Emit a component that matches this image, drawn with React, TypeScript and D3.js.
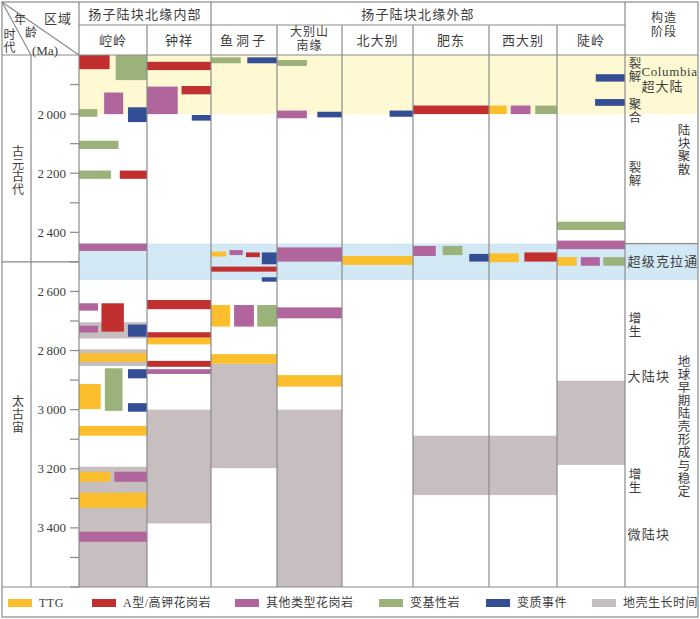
import React from "react";
import * as d3 from "d3";

// ---------- DATA ----------
const groups = ["扬子陆块北缘内部", "扬子陆块北缘外部"];
const columns = ["崆岭", "钟祥", "鱼洞子", "大别山南缘", "北大别", "肥东", "西大别", "陡岭"];
const columnGroup = [0, 0, 1, 1, 1, 1, 1, 1];
const majorTicks = [2000, 2200, 2400, 2600, 2800, 3000, 3200, 3400];
const minorTicks = [1900, 2100, 2300, 2500, 2700, 2900, 3100, 3300, 3500, 3600];
// era name, age span, age at which its label is centred
const eras = [
  { name: "古元古代", from: 1800, to: 2500, labelAt: 2192 },
  { name: "太古宙", from: 2500, to: 3600, labelAt: 3018 },
];
const bands = [
  { from: 1800, to: 2000, kind: "columbia" },
  { from: 2438, to: 2561, kind: "craton" },
];

// [column index, age from (Ma), age to (Ma), share of column from, share to]
const ttg = [
  [0, 2809, 2838, 0, 1], [0, 2913, 2998, 0, 0.32], [0, 3055, 3088, 0, 1], [0, 3210, 3244, 0, 0.46], [0, 3281, 3332, 0, 1],
  [1, 2756, 2779, 0, 1],
  [2, 2465, 2482, 0, 0.23], [2, 2646, 2719, 0, 0.29], [2, 2812, 2845, 0, 1],
  [3, 2883, 2922, 0, 1],
  [4, 2480, 2510, 0, 1],
  [6, 1971, 2000, 0, 0.26], [6, 2471, 2501, 0, 0.44],
  [7, 2484, 2513, 0, 0.29],
];
const aTypeGranite = [
  [0, 1800, 1848, 0, 0.45], [0, 2191, 2219, 0.6, 1], [0, 2640, 2736, 0.33, 0.66],
  [1, 1823, 1851, 0, 1], [1, 1905, 1933, 0.54, 1], [1, 2629, 2660, 0, 1], [1, 2738, 2756, 0, 1], [1, 2835, 2855, 0, 1],
  [2, 2468, 2484, 0.53, 0.74], [2, 2516, 2533, 0, 1],
  [5, 1971, 2000, 0, 1],
  [6, 2468, 2499, 0.52, 1],
];
const otherGranite = [
  [0, 1927, 2000, 0.37, 0.65], [0, 2438, 2463, 0, 1], [0, 2640, 2665, 0, 0.28], [0, 2716, 2739, 0, 0.28], [0, 3210, 3244, 0.52, 1], [0, 3413, 3447, 0, 1],
  [1, 1907, 2000, 0, 0.48], [1, 2863, 2879, 0, 1],
  [2, 2460, 2477, 0.28, 0.48], [2, 2646, 2719, 0.35, 0.65],
  [3, 1988, 2014, 0, 0.46], [3, 2451, 2499, 0, 1], [3, 2654, 2691, 0, 1],
  [5, 2446, 2480, 0, 0.3],
  [6, 1971, 2000, 0.32, 0.61],
  [7, 2428, 2457, 0, 1], [7, 2484, 2513, 0.35, 0.63],
];
const metabasite = [
  [0, 1800, 1885, 0.54, 1], [0, 1983, 2009, 0, 0.27], [0, 2090, 2118, 0, 0.58], [0, 2191, 2219, 0, 0.47], [0, 2860, 3004, 0.38, 0.64],
  [2, 1808, 1828, 0, 0.45], [2, 2646, 2719, 0.7, 1],
  [3, 1817, 1837, 0, 0.46],
  [5, 2446, 2477, 0.39, 0.65],
  [6, 1971, 2000, 0.68, 1],
  [7, 2364, 2392, 0, 1], [7, 2484, 2513, 0.68, 1],
];
const metamorphism = [
  [0, 1977, 2027, 0.72, 1], [0, 2712, 2753, 0.72, 1], [0, 2863, 2894, 0.72, 1], [0, 2978, 3007, 0.72, 1],
  [1, 2003, 2022, 0.7, 1],
  [2, 1808, 1828, 0.55, 1], [2, 2468, 2508, 0.77, 1], [2, 2552, 2567, 0.77, 1],
  [3, 1992, 2011, 0.62, 1],
  [4, 1988, 2009, 0.67, 1],
  [5, 2473, 2499, 0.74, 1],
  [7, 1865, 1890, 0.57, 1], [7, 1949, 1972, 0.56, 1],
];
const crustGrowth = [
  [0, 2704, 2759, 0, 1], [0, 2796, 2852, 0, 1], [0, 3193, 3600, 0, 1],
  [1, 3000, 3385, 0, 1],
  [2, 2845, 3198, 0, 1],
  [3, 3000, 3600, 0, 1],
  [5, 3088, 3289, 0, 1],
  [6, 3088, 3289, 0, 1],
  [7, 2902, 3187, 0, 1],
];
const legendLabels = ["TTG", "A型/高钾花岗岩", "其他类型花岗岩", "变基性岩", "变质事件", "地壳生长时间"];
// stage labels: [text, age (Ma) of centre, orientation]
const stageLabels: [string, number, string][] = [
  ["裂解", 1852, "v1"],
  ["聚合", 1990, "v1"],
  ["陆块聚散", 2121, "v2"],
  ["裂解", 2203, "v1"],
  ["超级克拉通", 2497, "h"],
  ["增生", 2715, "v1"],
  ["大陆块", 2889, "h"],
  ["地球早期陆壳形成与稳定", 3057, "v2"],
  ["增生", 3243, "v1"],
  ["微陆块", 3421, "h"],
];
const superLabels = ["Columbia", "超大陆"];
const stageHeader = ["构造", "阶段"];

// ---------- STYLE / LAYOUT ----------
const W = 700, H = 619;
const FONT = "'Liberation Serif','Noto Sans CJK SC',serif";
const TXT = "#3d3d3d";
const LINE = "#8a8a8a";
const colors = ["#FBBF2E", "#C1302F", "#B0659D", "#9CB27B", "#344E95", "#C7BEBF"];
const series = [ttg, aTypeGranite, otherGranite, metabasite, metamorphism];
const colWidths = [68, 64, 66, 65, 71, 76, 68, 68];
const left = 79, ageLeft = 31, stageRight = 698, top = 55, bottom = 587;
const outerL = 2, outerT = 2, outerB = 617;

function VText({ x, cy, text, size = 12, spacing = 1.5 }: any) {
  return (
    <text x={x} y={cy} textAnchor="middle" fontSize={size} fill={TXT} fontFamily={FONT}
      letterSpacing={spacing} style={{ writingMode: "vertical-rl" } as any}>{text}</text>
  );
}

const fmt = (v: number) => `${Math.floor(v / 1000)}\u2009${String(v % 1000).padStart(3, "0")}`;

export default function App() {
  const y = d3.scaleLinear().domain([1800, 3600]).range([top, bottom]);
  const edges = [left, ...d3.cumsum(colWidths).map((c) => left + c)];
  const stageLeft = edges[edges.length - 1];
  const colX = (i: number, f: number) => edges[i] + f * (edges[i + 1] - edges[i]);

  const rect = (d: number[], fill: string, key: string) => (
    <rect key={key} x={colX(d[0], d[3])} y={y(d[1])}
      width={colX(d[0], d[4]) - colX(d[0], d[3])} height={y(d[2]) - y(d[1])} fill={fill} />
  );

  const groupSpans = groups.map((g, gi) => {
    const idx = columnGroup.map((c, i) => (c === gi ? i : -1)).filter((i) => i >= 0);
    return { name: g, x0: edges[idx[0]], x1: edges[idx[idx.length - 1] + 1] };
  });

  const legendX = [8, 92, 235, 379, 486, 592];
  const T = (props: any) => (
    <text textAnchor="middle" dominantBaseline="central" fontSize={13} fill={TXT} fontFamily={FONT} {...props} />
  );

  return (
    <svg width={W} height={H} style={{ position: "absolute", left: 0, top: 0, background: "#fff" }}>
      {/* background bands */}
      {bands.map((b, i) => (
        <rect key={i} x={left} y={y(b.from)} width={stageRight - left} height={y(b.to) - y(b.from)}
          fill={b.kind === "columbia" ? "#FEF9D3" : "#D2E9F5"} />
      ))}
      {/* crust growth */}
      {crustGrowth.map((d, i) => rect(d, colors[5], "g" + i))}
      {/* events */}
      {series.map((s, si) => s.map((d, i) => rect(d, colors[si], `s${si}-${i}`)))}

      {/* grid lines */}
      <g stroke={LINE} strokeWidth={1.2} fill="none">
        <rect x={outerL} y={outerT} width={stageRight - outerL} height={outerB - outerT} />
        <line x1={outerL} x2={stageRight} y1={top} y2={top} />
        <line x1={outerL} x2={stageRight} y1={bottom} y2={bottom} />
        <line x1={left} x2={stageLeft} y1={25} y2={25} />
        {edges.map((e, i) => {
          const full = i === 0 || i === edges.length - 1 || groupSpans.some((g) => g.x0 === e && i !== 0);
          return <line key={i} x1={e} x2={e} y1={full ? outerT : 25} y2={bottom} />;
        })}
        <line x1={ageLeft} x2={ageLeft} y1={top} y2={bottom} />
        <line x1={outerL} x2={left} y1={y(2500)} y2={y(2500)} />
        <line x1={stageLeft} x2={stageRight} y1={y(bands[1].from)} y2={y(bands[1].from)} />
        <line x1={outerL} x2={left} y1={outerT} y2={top} />
        <line x1={outerL} x2={ageLeft} y1={outerT} y2={top} />
        {[...majorTicks, ...minorTicks].map((t) => (
          <line key={t} x1={left - 9} x2={left} y1={y(t)} y2={y(t)} />
        ))}
      </g>

      {/* tick labels */}
      {majorTicks.map((t) => (
        <T key={t} x={66} y={y(t)} textAnchor="end">{fmt(t)}</T>
      ))}

      {/* era labels */}
      {eras.map((e) => (
        <VText key={e.name} x={16.5} cy={y(e.labelAt)} text={e.name} size={12} spacing={0.8} />
      ))}

      {/* header corner */}
      <T x={58} y={18} letterSpacing={1}>区域</T>
      <T x={20} y={20} fontSize={12}>年</T>
      <T x={31} y={32.5} fontSize={12}>龄</T>
      <T x={45} y={50}>(Ma)</T>
      <T x={9.5} y={35} fontSize={12}>时</T>
      <T x={9.5} y={47.5} fontSize={12}>代</T>

      {/* group headers */}
      {groupSpans.map((g) => (
        <T key={g.name} x={(g.x0 + g.x1) / 2} y={14} letterSpacing={1.2}>{g.name}</T>
      ))}
      {/* column headers */}
      {columns.map((c, i) => {
        const cx = (edges[i] + edges[i + 1]) / 2;
        if (c.length > 3) {
          return (
            <g key={c}>
              <T x={cx} y={32} fontSize={12} letterSpacing={1}>{c.slice(0, 3)}</T>
              <T x={cx} y={46} fontSize={12} letterSpacing={1}>{c.slice(3)}</T>
            </g>
          );
        }
        return (
          <T key={c} x={cx} y={40} letterSpacing={i === 2 ? 3 : 1}>{c}</T>
        );
      })}
      {stageHeader.map((h, i) => (
        <T key={h} x={664} y={18 + i * 14} fontSize={12} letterSpacing={1}>{h}</T>
      ))}

      {/* stage labels */}
      {stageLabels.map(([t, age, o], i) => {
        if (o === "h") {
          return (
            <T key={i} x={stageLeft + 2.5} y={y(age)} textAnchor="start" letterSpacing={1.2}>{t}</T>
          );
        }
        return <VText key={i} x={o === "v1" ? 633.5 : 682.5} cy={y(age)} text={t} size={12.5} spacing={o === "v1" ? 1 : 0.5} />;
      })}
      <T x={641.5} y={y(1857)} textAnchor="start" letterSpacing={0.6}>{superLabels[0]}</T>
      <T x={641.5} y={y(1905)} textAnchor="start" letterSpacing={1}>{superLabels[1]}</T>

      {/* legend */}
      {legendLabels.map((l, i) => (
        <g key={l}>
          <rect x={legendX[i]} y={599} width={24} height={8} fill={colors[i]} />
          <T x={legendX[i] + 31} y={603} textAnchor="start" fontSize={12} letterSpacing={0.5}>{l}</T>
        </g>
      ))}
    </svg>
  );
}
